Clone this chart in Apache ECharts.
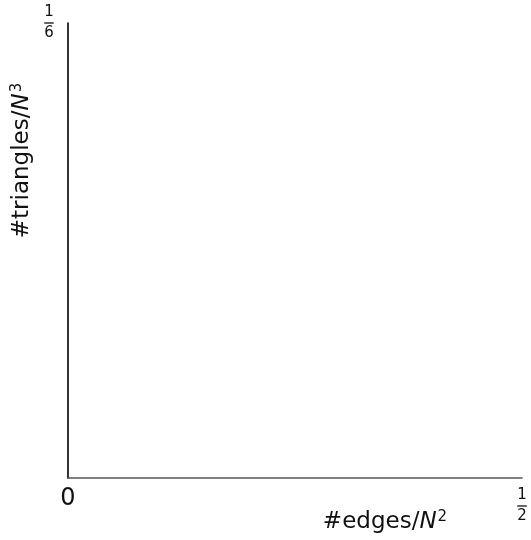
<!DOCTYPE html>
<html><head><meta charset="utf-8">
<script src="https://cdn.jsdelivr.net/npm/echarts@6/dist/echarts.min.js"></script>
<style>html,body{margin:0;padding:0;background:#fff}#c{width:531px;height:540px}</style>
</head><body><div id="c"></div>
<script>
const xRange = [0, 0.5];
const yRange = [0, 1/6];
const xTickLabels = ['0', '1/2'];
const yTickLabels = ['', '1/6'];
const xName = ['#edges/', 'N', '2'];
const yName = ['#triangles/', 'N', '3'];

const FONT = 'DejaVu Sans';
const chart = echarts.init(document.getElementById('c'));
function frac(s) {
  const p = s.split('/');
  if (p.length < 2) return '{z|' + s + '}';
  return '{n|' + p[0] + '}\n{b|}\n{n|' + p[1] + '}';
}
const fracRich = {
  z: {fontSize: 24, lineHeight: 22, fontFamily: FONT, color: '#111'},
  n: {fontSize: 15, lineHeight: 15, fontFamily: FONT, color: '#111'},
  b: {width: 9.5, height: 1.4, backgroundColor: '#222', lineHeight: 6}
};
const nameRich = {
  t: {fontSize: 23, fontFamily: FONT, color: '#111', lineHeight: 25, verticalAlign: 'bottom'},
  i: {fontSize: 23, fontFamily: FONT, fontStyle: 'italic', color: '#111', lineHeight: 25, verticalAlign: 'bottom'},
  s: {fontSize: 15, fontFamily: FONT, color: '#111', lineHeight: 15, verticalAlign: 'bottom', padding: [0, 0, 9, 1]}
};
function nm(a) { return '{t|' + a[0] + '}{i|' + a[1] + '}{s|' + a[2] + '}'; }

chart.setOption({
  animation: false,
  grid: {left: 68, right: 9, top: 23, bottom: 62, containLabel: false, outerBoundsMode: 'none'},
  xAxis: {
    type: 'value', min: xRange[0], max: xRange[1], interval: xRange[1] - xRange[0],
    axisLine: {lineStyle: {color: '#555', width: 1.6}},
    axisTick: {show: false}, splitLine: {show: false},
    axisLabel: {
      margin: 10, align: 'center',
      formatter: (v) => frac(xTickLabels[Math.round((v - xRange[0]) / (xRange[1] - xRange[0]))]),
      rich: fracRich
    },
    name: nm(xName), nameLocation: 'middle', nameGap: 31, nameMoveOverlap: false,
    nameTextStyle: {rich: nameRich, padding: [0, 0, 0, 180]}
  },
  yAxis: {
    type: 'value', min: yRange[0], max: yRange[1], interval: yRange[1] - yRange[0],
    axisLine: {show: true, lineStyle: {color: '#000', width: 1.6}},
    axisTick: {show: false}, splitLine: {show: false},
    axisLabel: {
      margin: 19, align: 'center',
      formatter: (v) => {
        const s = yTickLabels[Math.round((v - yRange[0]) / (yRange[1] - yRange[0]))];
        return s ? frac(s) : '';
      },
      rich: fracRich
    },
    name: nm(yName), nameLocation: 'middle', nameGap: 34, nameRotate: 90, nameMoveOverlap: false,
    nameTextStyle: {rich: nameRich, padding: [0, 0, 0, 180]}
  },
  series: [{type: 'line', data: []}]
});
</script></body></html>
